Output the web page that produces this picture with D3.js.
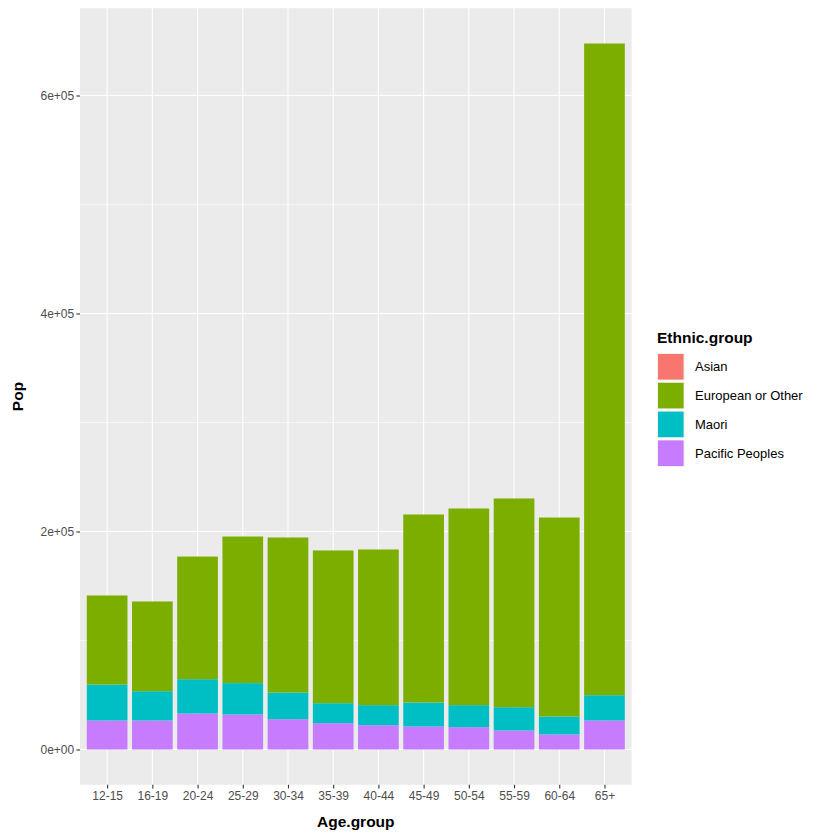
<!DOCTYPE html>
<html><head><meta charset="utf-8">
<script src="https://cdn.jsdelivr.net/npm/d3@7"></script>
<style>body{margin:0;background:#fff}svg{display:block}text{font-family:"Liberation Sans",Arial,sans-serif}</style>
</head><body>
<svg id="c" width="840" height="840"></svg>
<script>
const ageGroups = ["12-15","16-19","20-24","25-29","30-34","35-39","40-44","45-49","50-54","55-59","60-64","65+"];
const groups = ["Asian","European or Other","Maori","Pacific Peoples"];
const colors = ["#F8766D","#7CAE00","#00BFC4","#C77CFF"];
const asian    = [0,0,0,0,0,0,0,0,0,0,0,0];
const european = [81700,82300,112500,134500,142200,140100,142800,172500,180400,191500,182500,597900];
const maori    = [33000,26900,31500,28800,24500,18300,18400,22000,20200,21400,16500,23200];
const pacific  = [26600,26600,33000,32100,27800,24200,22300,21100,20500,17400,13800,26600];
const yTicks = [0,200000,400000,600000];
const yMinor = [100000,300000,500000];

const series = {"Asian":asian,"European or Other":european,"Maori":maori,"Pacific Peoples":pacific};
const rows = ageGroups.map((a,i)=>{const r={age:a}; groups.forEach(g=>r[g]=series[g][i]); return r;});
// ggplot stacks first factor level on top: stack order bottom = Pacific
const stack = d3.stack().keys(groups.slice().reverse())(rows);

const svg = d3.select("#c");
const L=80, R=631.6, T=8.2, B=784.8;
const totals = rows.map(r=>groups.reduce((s,g)=>s+r[g],0));
const ymax = d3.max(totals), pad = ymax*0.05;
const y = d3.scaleLinear().domain([-pad, ymax+pad]).range([B,T]);
const n = ageGroups.length;
const unit = (R-L)/(n-1+1.2);
const xc = d3.scalePoint().domain(ageGroups).range([L+0.6*unit, R-0.6*unit]);
const bw = 0.9*unit;
const color = d3.scaleOrdinal().domain(groups).range(colors);

svg.append("rect").attr("x",L).attr("y",T).attr("width",R-L).attr("height",B-T).attr("fill","#EBEBEB");
const g = svg.append("g");
yMinor.forEach(v=>g.append("line").attr("x1",L).attr("x2",R).attr("y1",y(v)).attr("y2",y(v)).attr("stroke","#fff").attr("stroke-width",0.55));
yTicks.forEach(v=>g.append("line").attr("x1",L).attr("x2",R).attr("y1",y(v)).attr("y2",y(v)).attr("stroke","#fff").attr("stroke-width",1.1));
ageGroups.forEach(a=>g.append("line").attr("x1",xc(a)).attr("x2",xc(a)).attr("y1",T).attr("y2",B).attr("stroke","#fff").attr("stroke-width",1.1));

stack.forEach(s=>{
  svg.append("g").selectAll("rect").data(s).join("rect")
    .attr("x",d=>xc(d.data.age)-bw/2).attr("width",bw)
    .attr("y",d=>y(d[1])).attr("height",d=>y(d[0])-y(d[1]))
    .attr("fill",color(s.key));
});

// axes
const yAxis = d3.axisLeft(y).tickValues(yTicks).tickSize(3.6).tickPadding(2.2)
  .tickFormat(v=>v===0?"0e+00":(v/1e5)+"e+05");
const ya = svg.append("g").attr("transform",`translate(${L},0)`).call(yAxis);
ya.select(".domain").remove();
ya.selectAll(".tick line").attr("stroke","#333").attr("stroke-width",1.1);
ya.selectAll(".tick text").attr("fill","#4D4D4D").style("font-size","12px");

const xAxis = d3.axisBottom(xc).tickSize(3.6).tickPadding(2.6);
const xa = svg.append("g").attr("transform",`translate(0,${B})`).call(xAxis);
xa.select(".domain").remove();
xa.selectAll(".tick line").attr("stroke","#333").attr("stroke-width",1.1);
xa.selectAll(".tick text").attr("fill","#4D4D4D").style("font-size","12px");

svg.append("text").attr("x",(L+R)/2).attr("y",827).attr("text-anchor","middle")
  .style("font-size","15.5px").style("font-weight","bold").attr("fill","#000").text("Age.group");
svg.append("text").attr("transform",`translate(22.7,${(T+B)/2}) rotate(-90)`).attr("text-anchor","middle")
  .style("font-size","15.5px").style("font-weight","bold").attr("fill","#000").text("Pop");

// legend
const lg = svg.append("g");
lg.append("text").attr("x",657).attr("y",343).style("font-size","15.5px").style("font-weight","bold").attr("fill","#000").text("Ethnic.group");
groups.forEach((k,i)=>{
  const yy = 353 + i*28.8;
  lg.append("rect").attr("x",657).attr("y",yy).attr("width",27.6).attr("height",27.6).attr("fill","#F2F2F2");
  lg.append("rect").attr("x",658).attr("y",yy+1).attr("width",25.6).attr("height",25.6).attr("fill",color(k));
  lg.append("text").attr("x",695).attr("y",yy+13.8).attr("dy","0.35em").style("font-size","13px").attr("fill","#000").text(k);
});
</script>
</body></html>
